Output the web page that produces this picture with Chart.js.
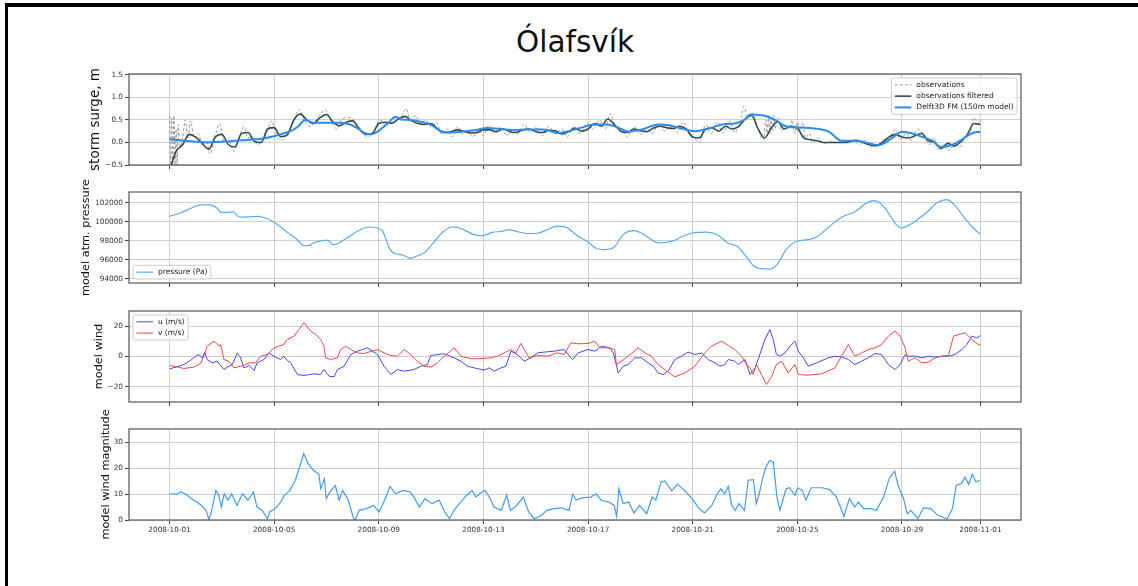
<!DOCTYPE html>
<html>
<head>
<meta charset="utf-8">
<title>Ólafsvík</title>
<script src="https://cdn.jsdelivr.net/npm/chart.js@4.4.1/dist/chart.umd.min.js"></script>
<style>
  html, body { margin: 0; padding: 0; background: #fff; overflow: hidden; }
  body { position: relative; width: 1138px; height: 586px; font-family: 'DejaVu Sans', sans-serif; }
  #edge { position: absolute; left: 5px; top: 3px; width: 1140px; height: 600px; border-top: 4px solid #000; border-left: 3px solid #000; }
  .panel { position: absolute; left: 0; }
  .panel canvas { display: block; }
  #title { position: absolute; left: 12px; width: 1126px; top: 28px; text-align: center; font-size: 29.5px; line-height: 29px; color: #111; white-space: nowrap; }
</style>
</head>
<body>
<div id="edge"></div>
<div id="title">Ólafsvík</div>
<div class="panel" style="top:34px"><canvas id="surgeChart" width="1138" height="177"></canvas></div>
<div class="panel" style="top:152px"><canvas id="pressureChart" width="1138" height="177"></canvas></div>
<div class="panel" style="top:271px"><canvas id="windChart" width="1138" height="177"></canvas></div>
<div class="panel" style="top:389px"><canvas id="magChart" width="1138" height="193"></canvas></div>

<script>
// x values are days since 2008-10-01 00:00
const xTickDays = [0, 4, 8, 12, 16, 20, 24, 28, 31];
const xTickLabels = ['2008-10-01', '2008-10-05', '2008-10-09', '2008-10-13', '2008-10-17',
                     '2008-10-21', '2008-10-25', '2008-10-29', '2008-11-01'];

const surgeTicks = [-0.5, 0, 0.5, 1, 1.5];
const pressureTicks = [94000, 96000, 98000, 100000, 102000];
const windTicks = [-20, 0, 20];
const magTicks = [0, 10, 20, 30];

// storm surge, m
const surgeObs = [
  [0,0.6],[0.04,-0.5],[0.08,0.55],[0.12,-0.5],[0.17,0.6],[0.21,-0.5],[0.25,0.3],[0.29,-0.5],[0.33,0.4],[0.4,-0.1],
  [0.5,0.1],[0.6,0.5],[0.7,0.1],[0.8,0.48],[0.95,0.1],[1.1,0.2],[1.25,-0.05],[1.4,0.05],[1.55,-0.25],[1.75,0.15],
  [1.9,0.42],[2.1,0],[2.25,0.1],[2.45,-0.2],[2.65,0.1],[2.85,0.35],[3,0.1],[3.2,0.12],[3.35,-0.05],[3.55,0.05],
  [3.7,0.2],[3.9,0.48],[4.1,0.15],[4.3,0.05],[4.5,0.22],[4.7,0.4],[4.95,0.73],[5.2,0.45],[5.4,0.35],[5.6,0.5],
  [5.95,0.72],[6.15,0.5],[6.4,0.3],[6.6,0.52],[6.9,0.55],[7.1,0.45],[7.3,0.3],[7.55,0.12],[7.8,0.25],[8.05,0.5],
  [8.3,0.38],[8.55,0.55],[8.8,0.52],[9.05,0.75],[9.2,0.5],[9.4,0.6],[9.6,0.42],[9.8,0.5],[10,0.35],[10.2,0.45],
  [10.4,0.18],[10.6,0.3],[10.8,0.12],[11,0.35],[11.2,0.18],[11.4,0.28],[11.6,0.12],[11.8,0.3],[12,0.15],[12.2,0.38],
  [12.4,0.2],[12.65,0.35],[12.9,0.15],[13.1,0.3],[13.3,0.18],[13.55,0.4],[13.8,0.22],[14,0.33],[14.25,0.15],[14.5,0.35],
  [14.75,0.2],[15,0.3],[15.2,0.12],[15.45,0.35],[15.7,0.2],[15.95,0.42],[16.2,0.3],[16.45,0.5],[16.65,0.3],[16.85,0.64],
  [17.05,0.35],[17.3,0.3],[17.5,0.12],[17.75,0.35],[18,0.18],[18.25,0.3],[18.45,0.2],[18.7,0.42],[18.95,0.25],[19.2,0.38],
  [19.4,0.22],[19.65,0.45],[19.85,0.2],[20.05,0.1],[20.25,0],[20.5,0.4],[20.7,0.2],[20.95,0.45],[21.15,0.2],[21.4,0.48],
  [21.6,0.22],[21.85,0.55],[21.95,0.8],[22.1,0.55],[22.3,0.65],[22.5,0.3],[22.7,0.05],[22.8,0.5],[22.85,0.15],[22.9,0.6],
  [22.95,0.2],[23,0.55],[23.05,0.25],[23.1,0.6],[23.15,0.3],[23.25,0.55],[23.4,0.25],[23.55,0.4],[23.7,0.3],[23.8,0.5],
  [23.9,0.2],[24,0.45],[24.1,0.25],[24.2,0.45],[24.3,0.1],[24.45,0.2],[24.6,0],[24.8,0.1],[25,-0.02],[25.3,0.02],
  [25.5,0],[25.7,0.05],[25.9,-0.02],[26.15,0.05],[26.35,-0.05],[26.6,0.05],[26.8,-0.1],[27.05,-0.08],[27.25,0.05],[27.5,0.1],
  [27.75,0.28],[27.95,0.05],[28.15,0.2],[28.35,0.05],[28.6,0.3],[28.85,0.15],[29.05,-0.05],[29.2,0.1],[29.4,-0.15],[29.6,-0.05],
  [29.8,-0.18],[30,-0.05],[30.2,-0.1],[30.4,0.1],[30.6,0.2],[30.75,0.55],[30.9,0.45],[31,0.5]
];
const surgeFiltered = [
  [0,-0.62],[0.25,-0.2],[0.5,-0.05],[0.75,0.18],[1,0.12],[1.25,-0.02],[1.5,-0.15],[1.75,0.12],[2,0.18],[2.25,-0.05],
  [2.5,-0.1],[2.75,0.2],[3,0.22],[3.25,0.02],[3.5,0],[3.75,0.3],[4,0.33],[4.25,0.13],[4.5,0.17],[4.75,0.5],
  [5,0.63],[5.25,0.5],[5.5,0.42],[5.75,0.55],[6,0.62],[6.25,0.45],[6.5,0.37],[6.75,0.45],[7,0.48],[7.25,0.3],
  [7.5,0.18],[7.75,0.2],[8,0.42],[8.25,0.45],[8.5,0.43],[8.75,0.52],[9,0.58],[9.25,0.48],[9.5,0.42],[9.75,0.4],
  [10,0.42],[10.25,0.3],[10.5,0.22],[10.75,0.24],[11,0.28],[11.25,0.25],[11.5,0.21],[11.75,0.22],[12,0.28],[12.25,0.28],
  [12.5,0.24],[12.75,0.3],[13,0.24],[13.25,0.22],[13.5,0.28],[13.75,0.3],[14,0.24],[14.25,0.22],[14.5,0.27],[14.75,0.26],
  [15,0.19],[15.25,0.24],[15.5,0.32],[15.75,0.25],[16,0.3],[16.25,0.42],[16.5,0.36],[16.75,0.52],[17,0.4],[17.25,0.25],
  [17.5,0.22],[17.75,0.3],[18,0.26],[18.25,0.24],[18.5,0.32],[18.75,0.36],[19,0.33],[19.25,0.31],[19.5,0.36],[19.75,0.3],
  [20,0.12],[20.25,0.1],[20.5,0.3],[20.75,0.32],[21,0.25],[21.25,0.36],[21.5,0.3],[21.75,0.35],[22,0.52],[22.25,0.6],
  [22.5,0.3],[22.75,0.1],[23,0.32],[23.25,0.46],[23.5,0.3],[23.75,0.36],[24,0.32],[24.25,0.1],[24.5,0.06],[24.75,0.04],
  [25,0],[25.25,0],[25.5,0],[25.75,0],[26,0.02],[26.25,0.05],[26.5,0],[26.75,-0.05],[27,-0.07],[27.25,0],
  [27.5,0.12],[27.75,0.18],[28,0.12],[28.25,0.1],[28.5,0.15],[28.75,0.2],[29,0.04],[29.25,0],[29.5,-0.13],[29.75,-0.02],
  [30,-0.08],[30.25,0.02],[30.5,0.18],[30.75,0.42],[31,0.4]
];
const surgeModel = [
  [0,0.07],[0.55,0.04],[1.44,0],[2.08,0.02],[2.72,0.05],[3.35,0.07],[4,0.14],[4.4,0.21],[4.63,0.25],[4.9,0.35],
  [5.2,0.5],[5.5,0.44],[6.5,0.44],[6.9,0.4],[7.2,0.31],[7.45,0.21],[7.7,0.18],[7.95,0.24],[8.33,0.42],[8.65,0.57],
  [8.85,0.51],[9.2,0.5],[9.6,0.46],[10,0.39],[10.37,0.25],[10.75,0.22],[11.15,0.24],[11.65,0.27],[12.15,0.32],[12.65,0.3],
  [13.2,0.27],[13.7,0.29],[14.3,0.29],[14.85,0.21],[15.25,0.25],[15.75,0.33],[16.25,0.4],[16.7,0.4],[17.15,0.33],[17.55,0.24],
  [18.05,0.29],[18.7,0.4],[19.05,0.39],[19.55,0.31],[20.1,0.25],[20.6,0.31],[21.25,0.41],[21.6,0.42],[22,0.51],[22.2,0.62],
  [22.6,0.61],[23.15,0.5],[23.55,0.36],[24.15,0.33],[24.65,0.31],[25.2,0.24],[25.7,0.04],[26.2,0.04],[26.7,-0.01],[27.1,-0.06],
  [27.6,0.09],[28,0.24],[28.4,0.2],[28.75,0.13],[29.15,0.04],[29.5,-0.1],[29.9,-0.06],[30.3,0.07],[30.65,0.2],[31,0.24]
];

// model atm. pressure, Pa
const pressure = [
  [0,100590],[0.42,100940],[0.84,101470],[1.18,101790],[1.53,101790],[1.81,101470],[1.98,101010],[2.23,101010],[2.44,101050],[2.65,100520],
  [3.2,100560],[3.4,100590],[3.76,100310],[4.04,99890],[4.46,99000],[4.81,98300],[5.16,97490],[5.3,97490],[5.5,97770],[5.92,98050],
  [6.06,98050],[6.24,97600],[6.48,97770],[6.83,98400],[7.25,99110],[7.6,99460],[7.94,99360],[8.15,99000],[8.43,97070],[8.64,96640],
  [8.92,96500],[9.2,96150],[9.48,96430],[9.76,96780],[10.03,97600],[10.45,98930],[10.8,99460],[11,99430],[11.29,99110],[11.64,98650],
  [11.99,98550],[12.33,98900],[12.68,99000],[12.96,99180],[13.17,99070],[13.52,98830],[13.8,98760],[14.08,98800],[14.5,99250],[14.77,99530],
  [15.1,99500],[15.54,98650],[15.96,97950],[16.37,97140],[16.65,97070],[17,97350],[17.34,98650],[17.76,99070],[18.03,98830],[18.72,97770],
  [19.28,98020],[19.55,98400],[19.97,98830],[20.52,98930],[20.94,98650],[21.35,97770],[21.7,97420],[22.04,96360],[22.32,95370],[22.6,95060],
  [22.94,95020],[23.22,95480],[23.57,97070],[23.98,97950],[24.4,98120],[24.74,98400],[25.23,99530],[25.71,100520],[26.19,101050],[26.61,101930],
  [26.89,102250],[27.16,102000],[27.44,101120],[27.78,99710],[27.99,99360],[28.41,99890],[28.96,101050],[29.37,102070],[29.72,102350],[29.99,101820],
  [30.4,100410],[30.68,99460],[31,98700]
];

// model wind components, m/s
const windU = [
  [0,-8.1],[0.29,-6.8],[0.55,-5.3],[0.8,-2.6],[1,0.2],[1.12,1.3],[1.25,-0.9],[1.34,2.9],[1.44,-2],[1.63,-4.2],
  [1.82,-3.1],[2.08,-8.6],[2.21,-7],[2.4,-5.3],[2.59,2.4],[2.72,-0.9],[2.84,-7.5],[3.04,-5.9],[3.23,-9.2],[3.35,-4.2],
  [3.61,-2],[3.8,2.4],[3.99,0.2],[4.12,-1],[4.25,-2],[4.37,0.2],[4.5,-2.6],[4.63,-4.2],[4.89,-11.9],[5.14,-12.5],
  [5.52,-11.4],[5.78,-11.9],[5.9,-8.6],[6.1,-13],[6.29,-13.4],[6.42,-8.6],[6.67,-6.4],[6.93,1.3],[7.18,3.5],[7.56,5.7],
  [7.76,3.5],[7.95,1.3],[8.2,-6.4],[8.46,-11.9],[8.71,-8.6],[8.97,-9.7],[9.35,-8.6],[9.6,-6.4],[9.86,-5.3],[9.99,0.7],
  [10.24,1.3],[10.5,1.8],[10.88,-0.9],[11.14,-3.1],[11.39,-6.4],[11.65,-7.5],[12.03,-9],[12.22,-7.5],[12.41,-9.7],[12.67,-7.5],
  [12.86,-6.4],[13.05,3.5],[13.3,1.3],[13.56,-3.1],[13.81,-0.9],[14.07,2.4],[14.32,2.9],[14.7,3.5],[15.09,4.6],[15.34,-0.9],
  [15.41,-2],[15.62,2.4],[16,4.6],[16.26,3.5],[16.51,6.8],[16.83,5.7],[16.96,2.4],[17.08,-5.3],[17.15,-10.8],[17.34,-6.4],
  [17.53,-5.3],[17.79,-0.9],[18.04,-0.9],[18.3,-4.2],[18.49,-6.4],[18.68,-10.8],[18.87,-11.9],[19.06,-9.7],[19.32,-2],[19.57,0.2],
  [19.83,2.9],[20.08,1.3],[20.34,2.4],[20.59,-2],[20.85,-4.2],[21.04,-6.4],[21.23,-5.3],[21.36,-2],[21.61,-3.1],[21.74,-5.3],
  [22,-2],[22.19,-11.9],[22.38,-7.5],[22.5,-2],[22.76,11.2],[22.95,17.8],[23.08,11.2],[23.2,1.3],[23.33,0.2],[23.53,2.4],
  [23.72,6.8],[23.91,10.1],[24.04,3.5],[24.23,-0.9],[24.42,-6.4],[24.8,-3.7],[25.18,-0.9],[25.44,0.2],[25.69,-0.2],[25.95,-2],
  [26.2,-5.3],[26.46,-3.1],[26.71,-0.9],[26.97,2],[27.22,1.3],[27.48,-5.3],[27.73,-8.6],[27.93,-5.3],[28.12,1.3],[28.24,0.2],
  [28.5,0.2],[28.76,-0.9],[29.01,0.2],[29.27,-0.4],[29.52,0.2],[29.78,0.2],[30.03,1.3],[30.29,4.6],[30.48,7.9],[30.67,13.4],
  [30.86,12.3],[31,13.8]
];
const windV = [
  [0,-5.9],[0.29,-6.8],[0.55,-7.9],[0.93,-7],[1.19,-4.6],[1.31,0.2],[1.44,6.8],[1.7,10.1],[1.89,6.8],[1.95,8],
  [2.08,-2],[2.27,-3.1],[2.46,-7.5],[2.72,-6.4],[2.91,-5.3],[3.04,-4.2],[3.29,-4.2],[3.48,0.2],[3.74,1.3],[3.99,5.7],
  [4.37,7.9],[4.5,11.2],[4.76,13.4],[4.95,17.8],[5.14,22.2],[5.4,16.7],[5.59,14.5],[5.78,11.2],[5.9,6.8],[5.97,-0.9],
  [6.16,-2],[6.42,-0.9],[6.54,4.6],[6.73,6.8],[6.93,4.6],[7.18,2.4],[7.44,2],[7.95,4.6],[8.2,2.4],[8.46,0.7],
  [8.71,0.2],[8.97,4.6],[9.22,1.3],[9.48,-3.1],[9.73,-6.4],[9.99,-7],[10.24,-4.2],[10.5,0.2],[10.88,5.7],[11.14,0.2],
  [11.52,-1.5],[11.77,-1.5],[12.28,-0.9],[12.54,0.2],[12.79,2.4],[13.05,4.6],[13.24,2.4],[13.43,8.6],[13.56,4.6],[13.75,-0.9],
  [14.07,0.7],[14.45,0.2],[14.83,2.4],[15.09,1.3],[15.34,9],[15.62,8.4],[16,8.6],[16.26,10.1],[16.45,5.7],[16.77,5.7],
  [17.02,4.6],[17.08,-5.3],[17.28,-3.1],[17.53,0.2],[17.91,5.7],[18.17,2.4],[18.42,0.2],[18.68,-5.3],[18.93,-8.6],[19.32,-13.4],
  [19.7,-10.8],[20.08,-6.4],[20.46,2.4],[20.72,6.8],[21.1,10.1],[21.36,7.3],[21.61,4.6],[21.87,0.2],[22.06,-5.3],[22.19,-7.5],
  [22.31,-11.9],[22.44,-5.3],[22.63,-11.9],[22.82,-18.5],[23.02,-13],[23.2,-5.3],[23.4,-3.1],[23.65,-10.8],[23.91,-5.3],[24.04,-11.9],
  [24.42,-12.3],[24.93,-11.4],[25.44,-7.5],[25.69,0.2],[25.95,7.9],[26.2,0.2],[26.46,2.4],[26.71,4.6],[26.97,5.7],[27.22,7.9],
  [27.48,13.4],[27.73,16.7],[27.93,13.4],[28.12,5.7],[28.24,-3.1],[28.5,-0.9],[28.76,-4.2],[29.01,-3.7],[29.27,-0.9],[29.52,0.2],
  [29.78,0.7],[29.97,13.4],[30.16,14.5],[30.42,15.6],[30.67,11.2],[30.92,7.9],[31,7.6]
];

// model wind magnitude, m/s
const windMag = [
  [0,10.1],[0.28,9.9],[0.42,10.8],[0.63,9.9],[0.84,8.2],[1.05,6.9],[1.25,5.3],[1.39,3.7],[1.46,1.8],[1.5,0.1],
  [1.6,3.1],[1.77,11.4],[1.88,9.5],[1.98,5],[2.09,10.1],[2.23,7.6],[2.37,10.1],[2.58,5.6],[2.79,10.1],[3,7.6],
  [3.21,10.8],[3.34,5],[3.55,3.7],[3.74,0.5],[3.83,3.1],[4.04,4.4],[4.25,6.9],[4.39,9.5],[4.6,11.4],[4.81,15.3],
  [4.95,19.7],[5.13,25.5],[5.3,21.7],[5.5,19.1],[5.71,17.6],[5.78,12],[5.92,15.9],[5.99,8.2],[6.13,10.8],[6.34,13.3],
  [6.48,7.6],[6.62,11.4],[6.83,7.6],[7.04,0.5],[7.1,0.1],[7.25,3.7],[7.53,4.4],[7.8,5.6],[8.01,3.1],[8.22,7.6],
  [8.43,12.9],[8.64,10.1],[8.92,11.4],[9.2,10.8],[9.34,8.8],[9.55,5],[9.76,8.2],[10.03,6.3],[10.31,7.6],[10.52,3.1],
  [10.7,0.5],[10.87,3.7],[11.08,6.3],[11.29,8.8],[11.43,10.1],[11.57,11.4],[11.71,8.8],[11.85,10.1],[12.06,11.4],[12.26,8.2],
  [12.4,5],[12.68,3.7],[12.89,9.7],[13.03,3.7],[13.24,5.3],[13.52,8.8],[13.73,3.1],[13.94,0.5],[14.22,1.8],[14.43,3.7],
  [14.7,4.4],[14.98,4.7],[15.27,3.7],[15.41,9.9],[15.54,7.8],[15.82,8.6],[16.1,8.8],[16.3,10.1],[16.51,7.6],[16.79,6.9],
  [17,5.6],[17.09,1.4],[17.18,12],[17.34,6.3],[17.55,6.9],[17.76,2.7],[17.96,5.6],[18.24,2.4],[18.45,8.8],[18.59,7.6],
  [18.79,14.6],[18.93,15],[19.2,11.2],[19.42,13.7],[19.69,11.4],[19.97,8.2],[20.25,4.4],[20.45,2.7],[20.73,5.6],[20.94,10.1],
  [21.08,12],[21.22,10.1],[21.36,12.9],[21.49,5.6],[21.63,3.7],[21.77,6.3],[21.98,3.7],[22.12,15.3],[22.32,15.5],[22.43,6.3],
  [22.53,9.5],[22.67,15.9],[22.8,20.4],[22.94,22.9],[23.08,22.3],[23.22,8.8],[23.33,3.7],[23.57,12],[23.7,12.4],[23.91,9.5],
  [24.01,12.4],[24.19,11.4],[24.33,7.6],[24.53,12.4],[24.95,12.4],[25.23,11.7],[25.5,8.8],[25.78,1.4],[25.99,8.2],[26.19,5],
  [26.33,6.9],[26.54,4.4],[26.82,4.4],[27.02,3.7],[27.3,8.8],[27.51,15.9],[27.72,18.8],[27.85,13.3],[28.06,8.2],[28.2,2.4],
  [28.34,3.7],[28.61,0.5],[28.82,4.7],[29.1,4.4],[29.37,1.8],[29.72,0.5],[29.93,4.4],[30.07,13.3],[30.27,14],[30.41,16.5],
  [30.55,13.7],[30.69,17.6],[30.83,14.6],[30.97,15.3]
];

const PLOT_LEFT = 129;
const PLOT_RIGHT = 1021;
const PAD = 40;   // spare room above and below each panel so rotated labels are not cut
const X_MIN = -1.55, X_MAX = 32.55;

Chart.defaults.font.family = "'DejaVu Sans', sans-serif";
Chart.defaults.color = '#333';

const minusFmt = digits => v => (v < 0 ? '\u2212' : '') + Math.abs(v).toFixed(digits);

// box round the plot area, like matplotlib spines
const framePlugin = {
  id: 'frame',
  afterDatasetsDraw(chart) {
    const { ctx, chartArea: a } = chart;
    ctx.save();
    ctx.strokeStyle = '#555';
    ctx.lineWidth = 1.2;
    ctx.strokeRect(a.left, a.top, a.right - a.left, a.bottom - a.top);
    ctx.restore();
  }
};

// legend drawn inside the plot area
const boxLegend = {
  id: 'boxLegend',
  afterDatasetsDraw(chart, args, opts) {
    if (!opts || !opts.corner) return;
    const { ctx, chartArea: a } = chart;
    const items = chart.data.datasets;
    const rowH = 11.3, padV = 1.2, padH = 3.4, handle = 16.6, gap = 5, inset = 4;
    ctx.save();
    ctx.font = "7.5px 'DejaVu Sans', sans-serif";
    const textW = Math.max(...items.map(d => ctx.measureText(d.label).width));
    const w = padH + handle + gap + textW + padH;
    const h = items.length * rowH + 2 * padV;
    const x = opts.corner.includes('r') ? a.right - inset - w : a.left + inset;
    const y = opts.corner.includes('b') ? a.bottom - inset - h : a.top + inset;
    ctx.beginPath();
    if (ctx.roundRect) ctx.roundRect(x, y, w, h, 2); else ctx.rect(x, y, w, h);
    ctx.fillStyle = 'rgba(255,255,255,0.85)';
    ctx.fill();
    ctx.strokeStyle = '#cccccc';
    ctx.lineWidth = 1;
    ctx.stroke();
    items.forEach((d, i) => {
      const cy = y + padV + rowH * (i + 0.5);
      ctx.beginPath();
      ctx.setLineDash(d.borderDash || []);
      ctx.strokeStyle = d.borderColor;
      ctx.lineWidth = d.borderWidth;
      ctx.moveTo(x + padH, cy);
      ctx.lineTo(x + padH + handle, cy);
      ctx.stroke();
      ctx.setLineDash([]);
      ctx.fillStyle = '#222';
      ctx.textBaseline = 'middle';
      ctx.fillText(d.label, x + padH + handle + gap, cy);
    });
    ctx.restore();
  }
};

const xy = pts => pts.map(p => ({ x: p[0], y: p[1] }));

function series(label, pts, color, width, extra) {
  return Object.assign({
    label: label,
    data: xy(pts),
    borderColor: color,
    borderWidth: width,
    pointRadius: 0,
    fill: false,
    tension: 0
  }, extra || {});
}

const gridStyle = { color: '#d0d0d0', lineWidth: 1, drawTicks: true, tickLength: 4, tickColor: '#444', tickWidth: 1 };

function makePanel(id, datasets, p) {
  const titleSize = p.titleSize || 11.3;
  return new Chart(document.getElementById(id).getContext('2d'), {
    type: 'line',
    data: { datasets: datasets },
    options: {
      responsive: false,
      animation: false,
      devicePixelRatio: 1,
      events: [],
      layout: { padding: { left: 0, right: 1138 - PLOT_RIGHT, top: PAD, bottom: PAD } },
      plugins: {
        legend: { display: false },
        tooltip: { enabled: false },
        boxLegend: { corner: p.legendCorner }
      },
      scales: {
        x: {
          type: 'linear',
          bounds: 'data',
          min: X_MIN,
          max: X_MAX,
          afterBuildTicks: s => { s.ticks = xTickDays.map(v => ({ value: v })); },
          afterFit: s => { s.height = p.showDates ? 22 : 6; },
          grid: gridStyle,
          border: { display: false },
          ticks: {
            display: !!p.showDates,
            autoSkip: false,
            maxRotation: 0,
            padding: 2,
            font: { size: 7.3 },
            color: '#333',
            callback: (v, i) => xTickLabels[i]
          }
        },
        y: {
          type: 'linear',
          bounds: 'data',
          min: p.yMin,
          max: p.yMax,
          afterBuildTicks: s => { s.ticks = p.yTicks.map(v => ({ value: v })); },
          afterFit: s => { s.width = PLOT_LEFT; },
          grid: gridStyle,
          border: { display: false },
          ticks: { autoSkip: false, padding: 2, font: { size: 7.3 }, color: '#333', callback: p.yFormat },
          title: {
            display: true,
            text: p.yTitle,
            color: '#111',
            font: { size: titleSize },
            padding: { top: p.titleX - titleSize * 0.6, bottom: 0 }
          }
        }
      }
    },
    plugins: [framePlugin, boxLegend]
  });
}

makePanel('surgeChart', [
  series('observations', surgeObs, '#9a9a9a', 1, { borderDash: [3, 2], cubicInterpolationMode: 'monotone', order: 2 }),
  series('observations filtered', surgeFiltered, '#2f4f4f', 1.6, { cubicInterpolationMode: 'monotone', order: 1 }),
  series('Delft3D FM (150m model)', surgeModel, '#2a8cf0', 2, { cubicInterpolationMode: 'monotone', order: 0 })
], {
  yMin: -0.5, yMax: 1.52, yTicks: surgeTicks, yFormat: minusFmt(1),
  yTitle: 'storm surge, m', titleX: 95.5, titleSize: 13.5, legendCorner: 'tr'
});

makePanel('pressureChart', [
  series('pressure (Pa)', pressure, '#5aaaf0', 1.2, { cubicInterpolationMode: 'monotone' })
], {
  yMin: 93545, yMax: 103160, yTicks: pressureTicks, yFormat: v => String(v),
  yTitle: 'model atm. pressure', titleX: 86, legendCorner: 'bl'
});

makePanel('windChart', [
  series('u (m/s)', windU, '#4646ee', 1, { order: 1 }),
  series('v (m/s)', windV, '#ee4646', 1, { order: 0 })
], {
  yMin: -30, yMax: 30, yTicks: windTicks, yFormat: minusFmt(0),
  yTitle: 'model wind', titleX: 99.5, legendCorner: 'tl'
});

makePanel('magChart', [
  series('wind magnitude', windMag, '#3d9df2', 1.2)
], {
  yMin: 0, yMax: 35, yTicks: magTicks, yFormat: minusFmt(0),
  yTitle: 'model wind magnitude', titleX: 106, showDates: true
});
</script>
</body>
</html>
